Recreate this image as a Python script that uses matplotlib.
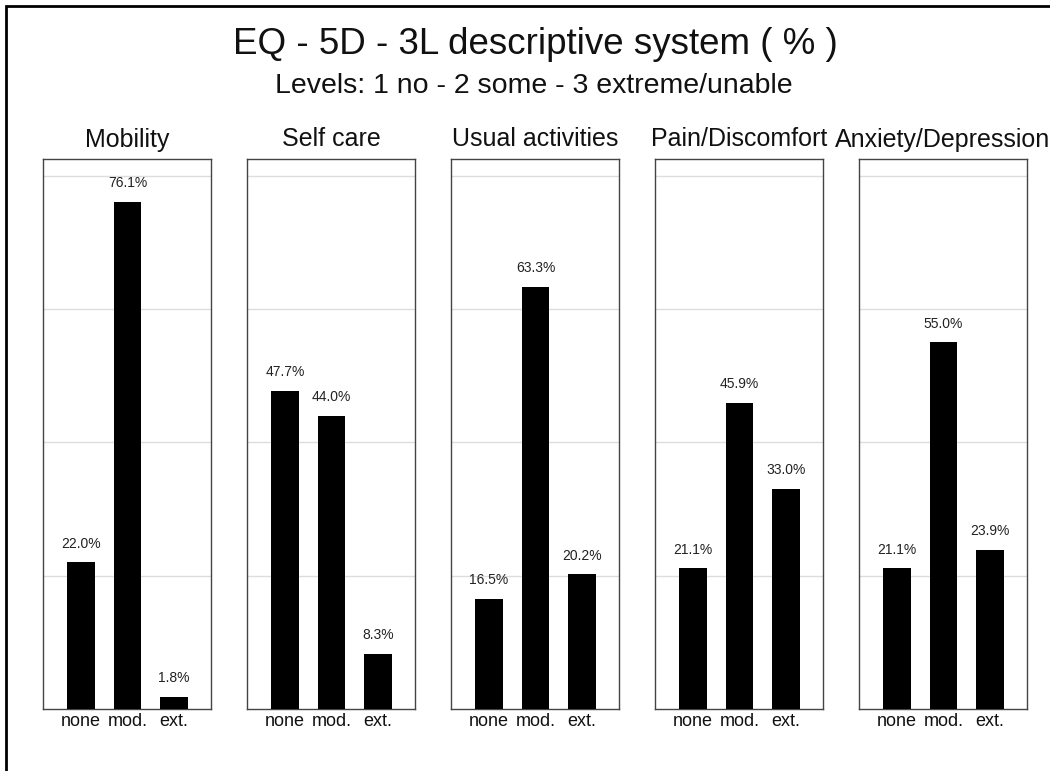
import matplotlib.pyplot as plt
from matplotlib.patches import Rectangle

plt.rcParams['font.family'] = ['Liberation Sans', 'DejaVu Sans']

dimensions = ['Mobility', 'Self care', 'Usual activities', 'Pain/Discomfort', 'Anxiety/Depression']
levels = ['none', 'mod.', 'ext.']
mobility = [22.0, 76.1, 1.8]
self_care = [47.7, 44.0, 8.3]
usual_activities = [16.5, 63.3, 20.2]
pain_discomfort = [21.1, 45.9, 33.0]
anxiety_depression = [21.1, 55.0, 23.9]
all_values = [mobility, self_care, usual_activities, pain_discomfort, anxiety_depression]

W, H = 1050, 771
fig = plt.figure(figsize=(W / 100, H / 100), dpi=100)

# outer frame (only top and left visible in the original)
fig.patches.append(Rectangle((6 / W, -0.1), 1.2, 1 - 6 / H + 0.1, transform=fig.transFigure,
                             fill=False, edgecolor='black', linewidth=2))

fig.text(535 / W, 1 - 54 / H, 'EQ - 5D - 3L descriptive system ( % )', ha='center', va='baseline',
         fontsize=26.5, color='#111111')
fig.text(534 / W, 1 - 93 / H, 'Levels: 1 no - 2 some - 3 extreme/unable', ha='center', va='baseline',
         fontsize=20.5, color='#111111')

for i, (name, vals) in enumerate(zip(dimensions, all_values)):
    left = 43 + i * 204
    ax = fig.add_axes([left / W, (H - 709) / H, 168 / W, 550 / H])
    x = range(len(levels))
    ax.bar(x, vals, width=0.6, color='black', zorder=3)
    for xi, v in zip(x, vals):
        ax.annotate(f'{v:.1f}%', (xi, v), xytext=(0, 8.5), textcoords='offset points',
                    ha='center', va='bottom', fontsize=10, color='#222222')
    ax.set_xlim(-0.82, 2.8)
    ax.set_ylim(0, 82.5)
    ax.set_yticks([20, 40, 60, 80])
    ax.yaxis.grid(True, color='#dddddd', linewidth=1, zorder=0)
    ax.tick_params(axis='y', left=False, labelleft=False)
    ax.set_xticks(list(x))
    ax.set_xticklabels(levels, fontsize=13, color='#111111')
    ax.tick_params(axis='x', length=0, pad=3)
    for s in ax.spines.values():
        s.set_color('#444444')
        s.set_linewidth(1)
    ax.set_title(name, fontsize=18, color='#111111', pad=9)

fig.savefig('out.png', dpi=100)
